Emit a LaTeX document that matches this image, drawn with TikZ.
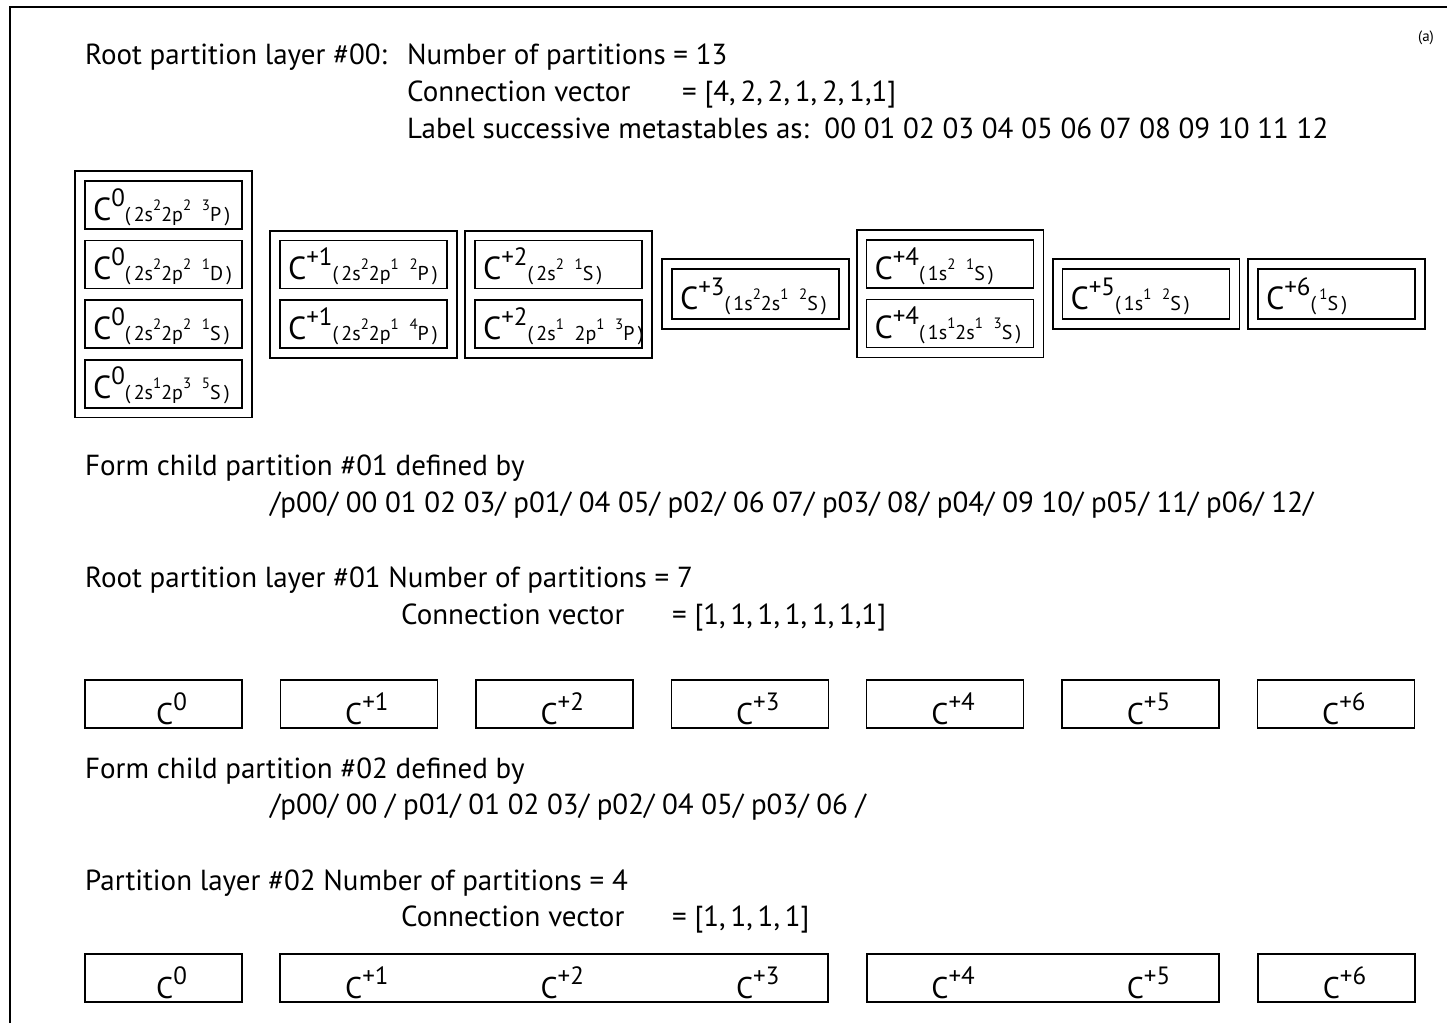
\documentclass[tikz,border=0pt]{standalone}
\usepackage{fontspec}
\setmainfont{PT Sans}
\usetikzlibrary{positioning, fit}
\tikzstyle{line} = [anchor=base west, inner sep=0pt, font=\fontsize{29}{29}\selectfont]
\tikzstyle{state} = [rectangle, draw, line width=1.6pt, minimum height=48pt, inner xsep=8pt, inner ysep=0pt, text height=30pt, text depth=0pt, text width=141pt, align=left, font=\fontsize{32}{32}\selectfont]
\tikzstyle{wide} = [text width=151pt]
\tikzstyle{group} = [rectangle, draw, line width=1.6pt, inner sep=9pt]
\tikzstyle{cell} = [rectangle, draw, line width=1.4pt, minimum width=157pt, minimum height=48pt, inner ysep=0pt, text height=40pt, text depth=0pt, font=\fontsize{30}{30}\selectfont]
\tikzstyle{charge} = [inner sep=0pt, text height=40pt, text depth=0pt, font=\fontsize{30}{30}\selectfont]
\newcommand{\chg}[1]{\raisebox{14pt}{\fontsize{25}{25}\selectfont #1}}
\newcommand{\supx}[1]{\raisebox{11pt}{\fontsize{15}{15}\selectfont #1}}
\newcommand{\cfg}[2]{C\chg{#1}{\fontsize{20}{20}\selectfont\raisebox{-1pt}{(\,#2\,)}}}
\newcommand{\ion}[1]{\hspace*{16pt}C\chg{#1}}

\begin{document}
\begin{tikzpicture}[x=1pt, y=-1pt]
  \useasboundingbox (0,0) rectangle (1447,1023);
  \draw [line width=2.5pt] (10,1023) -- (10,7) -- (1447,7);
  \node (tag) [font=\fontsize{15}{15}\selectfont] at (1426,38) {(a)};
  % layer 00
  \node (t1a) [line] at (85,64) {Root partition layer \#00:};
  \node (t1b) [line] at (407,64) {Number of partitions = 13};
  \node (t2a) [line] at (407,101) {Connection vector};
  \node (t2b) [line] at (682,101) {= [4,\,2,\,2,\,1,\,2,\,1,1]};
  \node (t3) [line] at (407,138) {Label successive metastables as:\ \ 00 01 02 03 04 05 06 07 08 09 10 11 12};
  \node (s00) [state] at (163.5,205) {\cfg{0}{2s\supx{2}2p\supx{2} \supx{3}P}};
  \node (s01) [state, below=10pt of s00] {\cfg{0}{2s\supx{2}2p\supx{2} \supx{1}D}};
  \node (s02) [state, below=10pt of s01] {\cfg{0}{2s\supx{2}2p\supx{2} \supx{1}S}};
  \node (s03) [state, below=10pt of s02] {\cfg{0}{2s\supx{1}2p\supx{3} \supx{5}S}};
  \node (g0) [group, fit=(s00)(s03)] {};
  \node (s10) [state, wide, right=36.4pt of s01] {\cfg{+1}{2s\supx{2}2p\supx{1} \supx{2}P}};
  \node (s11) [state, wide, below=10pt of s10] {\cfg{+1}{2s\supx{2}2p\supx{1} \supx{4}P}};
  \node (g1) [group, fit=(s10)(s11)] {};
  \node (s20) [state, wide, right=26.4pt of s10] {\cfg{+2}{2s\supx{2} \supx{1}S}};
  \node (s21) [state, wide, below=10pt of s20] {\cfg{+2}{2s\supx{1} 2p\supx{1} \supx{3}P}};
  \node (g2) [group, fit=(s20)(s21)] {};
  \node (s30) [state, wide, minimum height=50pt] at (755.5,294) {\cfg{+3}{1s\supx{2}2s\supx{1} \supx{2}S}};
  \node (g3) [group, fit=(s30)] {};
  \node (s40) [state, wide] at (950,264) {\cfg{+4}{1s\supx{2} \supx{1}S}};
  \node (s41) [state, wide, below=10pt of s40] {\cfg{+4}{1s\supx{1}2s\supx{1} \supx{3}S}};
  \node (g4) [group, fit=(s40)(s41)] {};
  \node (s50) [state, wide, minimum height=50pt] at (1146,294) {\cfg{+5}{1s\supx{1} \supx{2}S}};
  \node (g5) [group, fit=(s50)] {};
  \node (s60) [state, minimum height=50pt] at (1336.5,294) {\cfg{+6}{\supx{1}S}};
  \node (g6) [group, fit=(s60)] {};
  % layer 01
  \node (t4) [line] at (85,475) {Form child partition \#01 defined by};
  \node (t5) [line] at (270,512) {/p00/ 00 01 02 03/ p01/ 04 05/ p02/ 06 07/ p03/ 08/ p04/ 09 10/ p05/ 11/ p06/ 12/};
  \node (t6) [line] at (85,587) {Root partition layer \#01 Number of partitions = 7};
  \node (t7a) [line] at (401,624) {Connection vector};
  \node (t7b) [line] at (672,624) {= [1,\,1,\,1,\,1,\,1,\,1,1]};
  \node (c0) [cell] at (163.5,704) {\ion{0}};
  \node (c1) [cell, right=37pt of c0] {\ion{+1}};
  \node (c2) [cell, right=37pt of c1] {\ion{+2}};
  \node (c3) [cell, right=37pt of c2] {\ion{+3}};
  \node (c4) [cell, right=37pt of c3] {\ion{+4}};
  \node (c5) [cell, right=37pt of c4] {\ion{+5}};
  \node (c6) [cell, right=37pt of c5] {\ion{+6}};
  % layer 02
  \node (t8) [line] at (85,778) {Form child partition \#02 defined by};
  \node (t9) [line] at (270,814) {/p00/ 00 / p01/ 01 02 03/ p02/ 04 05/ p03/ 06 /};
  \node (t10) [line] at (85,890) {Partition layer \#02 Number of partitions = 4};
  \node (t11a) [line] at (401,926) {Connection vector};
  \node (t11b) [line] at (672,926) {= [1,\,1,\,1,\,1]};
  \node (d0) [cell] at (163.5,978) {\ion{0}};
  \node (d1) [cell, minimum width=548pt, right=36.6pt of d0] {};
  \node (d2) [cell, minimum width=352pt, right=37.6pt of d1] {};
  \node (d3) [cell, right=37.6pt of d2] {\ion{+6}};
  \node (d1a) [charge] at (c1 |- d1) {\ion{+1}};
  \node (d1b) [charge] at (c2 |- d1) {\ion{+2}};
  \node (d1c) [charge] at (c3 |- d1) {\ion{+3}};
  \node (d2a) [charge] at (c4 |- d2) {\ion{+4}};
  \node (d2b) [charge] at (c5 |- d2) {\ion{+5}};
\end{tikzpicture}
\end{document}
